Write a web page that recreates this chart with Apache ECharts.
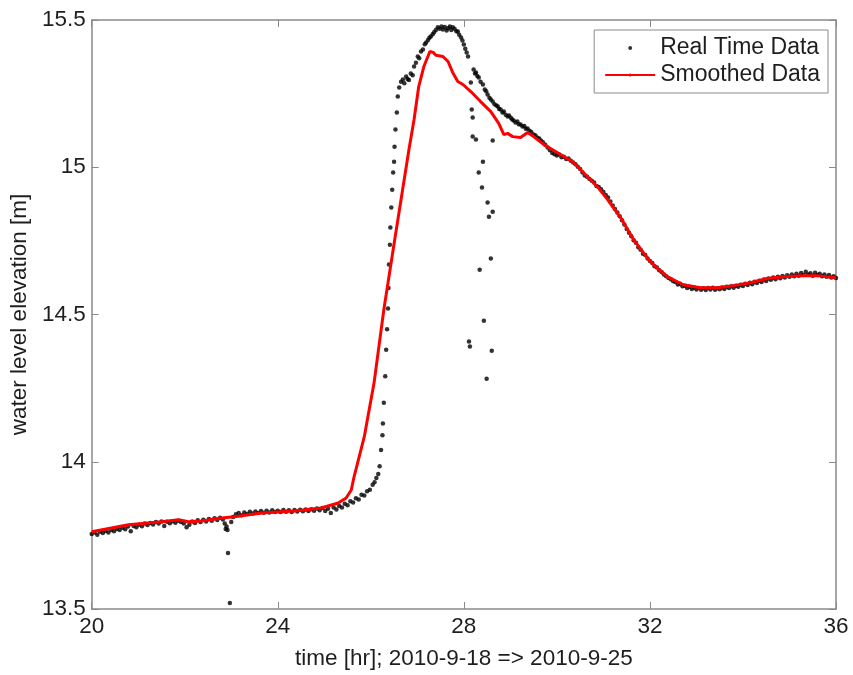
<!DOCTYPE html>
<html>
<head>
<meta charset="utf-8">
<script src="https://cdn.jsdelivr.net/npm/echarts@6/dist/echarts.min.js"></script>
<style>
  html, body { margin: 0; padding: 0; background: #fff; }
  #chart { width: 853px; height: 675px; }
</style>
</head>
<body>
<div id="chart"></div>
<script>
// real time gauge readings [hour, elevation]
const realFlat = [
  [20.00, 13.755], [20.06, 13.760], [20.12, 13.752], [20.18, 13.762], [20.24, 13.758],
  [20.30, 13.765], [20.36, 13.760], [20.42, 13.768], [20.48, 13.764], [20.54, 13.772],
  [20.60, 13.768], [20.66, 13.776], [20.72, 13.771], [20.78, 13.780], [20.84, 13.764],
  [20.90, 13.782], [20.96, 13.778], [21.02, 13.786], [21.08, 13.781], [21.14, 13.790],
  [21.20, 13.785], [21.26, 13.792], [21.32, 13.787], [21.38, 13.795], [21.44, 13.790],
  [21.50, 13.797], [21.56, 13.782], [21.62, 13.796], [21.68, 13.791], [21.74, 13.798],
  [21.80, 13.793], [21.86, 13.800], [21.92, 13.795], [21.98, 13.790], [22.04, 13.778],
  [22.10, 13.786], [22.16, 13.797], [22.22, 13.792], [22.28, 13.801], [22.34, 13.795],
  [22.40, 13.803], [22.46, 13.797], [22.52, 13.806], [22.58, 13.800], [22.64, 13.808],
  [22.70, 13.802], [22.76, 13.810], [22.82, 13.804], [22.86, 13.790], [22.88, 13.772],
  [22.90, 13.780], [22.92, 13.768], [22.93, 13.690], [22.97, 13.520], [23.00, 13.795],
  [23.04, 13.812], [23.10, 13.822], [23.16, 13.826], [23.22, 13.818], [23.28, 13.828],
  [23.34, 13.823], [23.40, 13.830], [23.46, 13.824], [23.52, 13.831], [23.58, 13.826],
  [23.64, 13.833], [23.70, 13.827], [23.76, 13.834], [23.82, 13.828], [23.88, 13.835],
  [23.94, 13.829], [24.00, 13.834], [24.06, 13.829], [24.12, 13.836], [24.18, 13.830],
  [24.24, 13.835], [24.30, 13.829], [24.36, 13.836], [24.42, 13.831], [24.48, 13.837],
  [24.54, 13.832], [24.60, 13.838], [24.66, 13.833], [24.72, 13.839], [24.78, 13.834],
  [24.84, 13.841], [24.90, 13.835], [24.96, 13.843], [25.02, 13.833], [25.08, 13.840],
  [25.14, 13.826], [25.20, 13.845], [25.26, 13.838], [25.32, 13.850], [25.38, 13.845],
  [25.44, 13.857], [25.50, 13.852], [25.56, 13.866], [25.62, 13.862], [25.68, 13.876],
  [25.74, 13.872], [25.80, 13.888], [25.86, 13.885], [25.92, 13.900], [25.98, 13.905],
  [26.04, 13.922], [26.08, 13.930], [26.12, 13.945], [26.16, 13.958]
];
const realRise = [
  [26.19, 13.985], [26.22, 14.040], [26.25, 14.090], [26.26, 14.130], [26.28, 14.200],
  [26.31, 14.290], [26.33, 14.380], [26.35, 14.450], [26.37, 14.520], [26.38, 14.590],
  [26.39, 14.670], [26.41, 14.737], [26.42, 14.795], [26.44, 14.863], [26.46, 14.924],
  [26.48, 14.982], [26.50, 15.019], [26.51, 15.070], [26.53, 15.128], [26.56, 15.186],
  [26.58, 15.240], [26.61, 15.271]
];
const realPeak = [
  [26.65, 15.290], [26.69, 15.298], [26.72, 15.285], [26.76, 15.308], [26.79, 15.300],
  [26.82, 15.296], [26.86, 15.318], [26.90, 15.312], [26.93, 15.342], [26.97, 15.355],
  [27.01, 15.376], [27.04, 15.370], [27.08, 15.393], [27.12, 15.400], [27.16, 15.418],
  [27.19, 15.424], [27.23, 15.432], [27.26, 15.440], [27.29, 15.444], [27.33, 15.452],
  [27.36, 15.458], [27.40, 15.466], [27.44, 15.475], [27.48, 15.470], [27.52, 15.478],
  [27.55, 15.468], [27.59, 15.476], [27.63, 15.464], [27.66, 15.472], [27.70, 15.478],
  [27.73, 15.466], [27.76, 15.475], [27.80, 15.470], [27.84, 15.462], [27.87, 15.461],
  [27.90, 15.450], [27.94, 15.441], [27.97, 15.430], [28.00, 15.417], [28.03, 15.402],
  [28.06, 15.390], [28.09, 15.376]
];
const realSpike = [
  [28.15, 15.288], [28.17, 15.196], [28.19, 15.169], [28.19, 15.104], [28.26, 15.094],
  [28.62, 15.091], [28.41, 15.019], [28.32, 14.982], [28.39, 14.931], [28.51, 14.880],
  [28.62, 14.849], [28.54, 14.832], [28.58, 14.690], [28.34, 14.652], [28.43, 14.479],
  [28.11, 14.408], [28.13, 14.391], [28.60, 14.377], [28.49, 14.282]
];
const realFall = [
  [28.21, 15.332], [28.24, 15.318], [28.26, 15.322], [28.29, 15.310], [28.32, 15.305],
  [28.36, 15.290], [28.41, 15.281], [28.45, 15.264], [28.48, 15.258], [28.51, 15.247],
  [28.55, 15.236], [28.58, 15.230], [28.62, 15.223], [28.66, 15.214], [28.70, 15.210],
  [28.73, 15.206], [28.76, 15.198], [28.79, 15.196], [28.83, 15.186], [28.86, 15.189],
  [28.90, 15.178], [28.94, 15.172], [28.97, 15.176], [29.01, 15.168], [29.04, 15.162],
  [29.07, 15.159], [29.11, 15.152], [29.15, 15.155], [29.18, 15.146], [29.22, 15.145],
  [29.26, 15.138], [29.30, 15.140], [29.33, 15.131], [29.37, 15.132], [29.41, 15.124],
  [29.45, 15.120], [29.50, 15.111], [29.54, 15.108], [29.58, 15.100], [29.62, 15.098],
  [29.66, 15.090], [29.70, 15.085], [29.75, 15.076], [29.80, 15.067], [29.85, 15.058],
  [29.90, 15.048], [29.95, 15.044], [30.00, 15.040], [30.05, 15.043], [30.10, 15.034],
  [30.15, 15.036], [30.20, 15.028], [30.25, 15.030], [30.30, 15.022], [30.35, 15.016],
  [30.40, 15.010], [30.45, 15.002], [30.50, 14.994], [30.55, 14.982], [30.60, 14.972],
  [30.65, 14.968], [30.70, 14.960], [30.75, 14.954], [30.80, 14.948], [30.85, 14.936],
  [30.90, 14.933], [30.95, 14.925], [31.00, 14.916], [31.05, 14.906], [31.10, 14.897],
  [31.15, 14.884], [31.20, 14.870], [31.25, 14.858], [31.30, 14.846], [31.35, 14.834],
  [31.40, 14.820], [31.45, 14.806], [31.50, 14.790], [31.55, 14.778], [31.60, 14.766],
  [31.65, 14.752], [31.70, 14.744], [31.75, 14.728], [31.80, 14.720], [31.85, 14.706],
  [31.90, 14.702], [31.95, 14.690], [32.00, 14.682], [32.05, 14.675], [32.10, 14.664],
  [32.15, 14.660], [32.20, 14.650], [32.25, 14.644], [32.30, 14.636], [32.35, 14.630],
  [32.40, 14.624], [32.45, 14.620], [32.50, 14.613], [32.55, 14.610], [32.60, 14.602],
  [32.65, 14.604], [32.70, 14.596], [32.75, 14.598], [32.80, 14.590], [32.85, 14.594],
  [32.90, 14.587], [32.95, 14.592], [33.00, 14.585], [33.05, 14.590], [33.10, 14.584],
  [33.15, 14.589], [33.20, 14.583], [33.25, 14.590], [33.30, 14.585], [33.35, 14.591],
  [33.40, 14.584], [33.45, 14.589], [33.50, 14.586], [33.55, 14.592], [33.60, 14.587],
  [33.65, 14.594], [33.70, 14.590], [33.75, 14.596], [33.80, 14.591], [33.85, 14.598],
  [33.90, 14.594], [33.95, 14.601], [34.00, 14.597], [34.05, 14.604], [34.10, 14.600],
  [34.15, 14.608], [34.20, 14.603], [34.25, 14.611], [34.30, 14.607], [34.35, 14.615],
  [34.40, 14.610], [34.45, 14.619], [34.50, 14.614], [34.55, 14.622], [34.60, 14.618],
  [34.65, 14.626], [34.70, 14.620], [34.75, 14.628], [34.80, 14.623], [34.85, 14.631],
  [34.90, 14.626], [34.95, 14.633], [35.00, 14.628], [35.05, 14.636], [35.10, 14.630],
  [35.15, 14.638], [35.20, 14.632], [35.25, 14.641], [35.30, 14.634], [35.35, 14.645],
  [35.40, 14.636], [35.45, 14.640], [35.50, 14.632], [35.55, 14.642], [35.60, 14.634],
  [35.65, 14.638], [35.70, 14.630], [35.75, 14.636], [35.80, 14.628], [35.85, 14.634],
  [35.90, 14.626], [35.95, 14.630], [36.00, 14.624]
];

// smoothed curve [hour, elevation]
const smoothed = [
  [20.00, 13.762], [20.79, 13.786], [21.50, 13.796], [21.87, 13.803], [22.08, 13.796],
  [22.36, 13.799], [22.79, 13.809], [23.07, 13.813], [23.65, 13.826], [24.35, 13.833],
  [24.93, 13.843], [25.30, 13.860], [25.47, 13.877], [25.58, 13.904], [25.64, 13.949],
  [25.86, 14.085], [26.07, 14.268], [26.28, 14.516], [26.48, 14.720], [26.82, 15.060],
  [26.93, 15.162], [27.03, 15.274], [27.14, 15.342], [27.27, 15.393], [27.34, 15.390],
  [27.40, 15.380], [27.55, 15.376], [27.66, 15.359], [27.76, 15.322], [27.87, 15.291],
  [27.98, 15.281], [28.15, 15.257], [28.36, 15.223], [28.58, 15.189], [28.75, 15.149],
  [28.86, 15.111], [28.94, 15.115], [29.05, 15.104], [29.22, 15.101], [29.37, 15.118],
  [29.50, 15.104], [29.72, 15.077], [30.08, 15.043], [30.36, 15.016], [30.57, 14.982],
  [30.87, 14.934], [31.09, 14.890], [31.37, 14.829], [31.65, 14.754], [32.01, 14.679],
  [32.38, 14.628], [32.72, 14.601], [33.08, 14.591], [33.45, 14.591], [33.79, 14.598],
  [34.16, 14.608], [34.52, 14.622], [34.86, 14.628], [35.23, 14.632], [35.59, 14.632],
  [36.00, 14.625]
];

const font = '"Liberation Sans", Arial, sans-serif';
const boxColor = '#8a8a8a';
const textColor = '#1e1e1e';

const chart = echarts.init(document.getElementById('chart'));

const frameAxis = {
  axisLine: { show: true, onZero: false, lineStyle: { color: boxColor, width: 1.5 } },
  axisTick: { show: true, inside: true, length: 7, lineStyle: { color: boxColor, width: 1 } },
  splitLine: { show: false },
};

chart.setOption({
  animation: false,
  textStyle: { fontFamily: font },
  grid: { left: 90, right: 17, top: 20, bottom: 66 },
  legend: {
    orient: 'vertical',
    right: 25,
    top: 30,
    padding: [6, 8, 6, 10],
    itemGap: 3,
    itemWidth: 50,
    itemHeight: 4,
    borderColor: boxColor,
    borderWidth: 1,
    backgroundColor: '#fff',
    textStyle: { fontFamily: font, fontSize: 23, color: textColor, lineHeight: 24 },
    data: [
      { name: 'Real Time Data', icon: 'circle' },
      { name: 'Smoothed Data' },
    ],
  },
  xAxis: [
    {
      ...frameAxis,
      type: 'value', min: 20, max: 36, interval: 4,
      name: 'time [hr]; 2010-9-18 => 2010-9-25',
      nameLocation: 'middle', nameGap: 38,
      nameTextStyle: { fontFamily: font, fontSize: 22.5, color: textColor },
      axisLabel: { fontFamily: font, fontSize: 22.5, color: textColor, margin: 6 },
    },
    {
      ...frameAxis,
      type: 'value', min: 20, max: 36, interval: 4, position: 'top',
      axisLabel: { show: false },
    },
  ],
  yAxis: [
    {
      ...frameAxis,
      type: 'value', min: 13.5, max: 15.5, interval: 0.5,
      name: 'water level elevation [m]',
      nameLocation: 'middle', nameGap: 55,
      nameTextStyle: { fontFamily: font, fontSize: 22.5, color: textColor },
      axisLabel: { fontFamily: font, fontSize: 22.5, color: textColor, margin: 6 },
    },
    {
      ...frameAxis,
      type: 'value', min: 13.5, max: 15.5, interval: 0.5, position: 'right',
      axisLabel: { show: false },
    },
  ],
  series: [
    {
      name: 'Real Time Data',
      type: 'scatter',
      symbol: 'circle',
      symbolSize: 4.5,
      itemStyle: { color: '#000' },
      data: [...realFlat, ...realRise, ...realPeak, ...realSpike, ...realFall],
    },
    {
      name: 'Smoothed Data',
      type: 'line',
      showSymbol: false,
      symbol: 'none',
      lineStyle: { color: '#ff0000', width: 3 },
      itemStyle: { color: '#ff0000' },
      data: smoothed,
      z: 3,
    },
  ],
});
</script>
</body>
</html>
